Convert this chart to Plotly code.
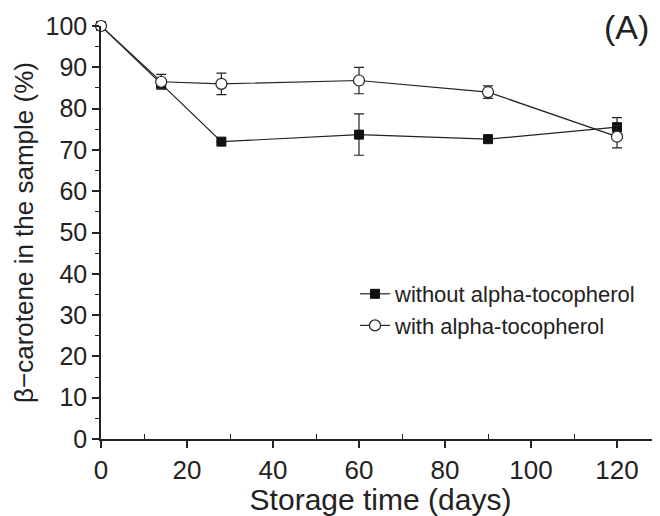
import plotly.graph_objects as go

days = [0, 14, 28, 60, 90, 120]
without_toc = [100, 86.0, 72.0, 73.7, 72.6, 75.5]
without_err = [0, 1.0, 0, 5.0, 0, 2.3]
with_toc = [100, 86.5, 86.0, 86.8, 84.0, 73.2]
with_err = [0, 1.8, 2.6, 3.2, 1.5, 2.7]

FONT = "Liberation Sans, Arial, sans-serif"
fig = go.Figure()
fig.add_trace(go.Scatter(
    x=days, y=without_toc, name="without alpha-tocopherol", mode="lines+markers",
    line=dict(color="#222", width=1.2),
    marker=dict(symbol="square", size=9, color="#111", line=dict(color="#111", width=1)),
    error_y=dict(type="data", array=without_err, visible=True, color="#222", thickness=1.2, width=5),
    cliponaxis=False,
))
fig.add_trace(go.Scatter(
    x=days, y=with_toc, name="with alpha-tocopherol", mode="lines+markers",
    line=dict(color="#222", width=1.2),
    marker=dict(symbol="circle", size=11, color="white", line=dict(color="#222", width=1.2)),
    error_y=dict(type="data", array=with_err, visible=True, color="#222", thickness=1.2, width=5),
    cliponaxis=False,
))
# page has an 8px body margin: plot area spans x 101..660, y 26..439 on the page
fig.update_layout(
    width=652, height=508,
    margin=dict(l=93, r=0, t=18, b=77, autoexpand=False),
    plot_bgcolor="white", paper_bgcolor="white",
    font=dict(family=FONT, color="#222"),
    showlegend=True,
    legend=dict(x=(355 - 101) / 559, y=(439 - 273) / 413, xanchor="left", yanchor="top",
                bgcolor="rgba(0,0,0,0)", font=dict(size=22, color="#222"), tracegroupgap=0),
    annotations=[dict(text="(A)", x=1.0, y=1.0, xref="paper", yref="paper", xanchor="right",
                      yanchor="middle", xshift=-9, yshift=-1, showarrow=False,
                      font=dict(size=34, family=FONT, color="#222"))],
)
fig.update_xaxes(
    range=[0, 130], tickvals=[0, 20, 40, 60, 80, 100, 120], showgrid=False, zeroline=False,
    showline=True, linecolor="#222", linewidth=1.5, ticks="outside", ticklen=7, tickwidth=1.5,
    tickcolor="#222", tickfont=dict(size=26), automargin=False,
    minor=dict(tickvals=[10, 30, 50, 70, 90, 110], ticks="inside", ticklen=5, tickwidth=1.2, tickcolor="#222"),
    title=dict(text="Storage time (days)", font=dict(size=30), standoff=4),
)
fig.update_yaxes(
    range=[0, 100], dtick=10, showgrid=False, zeroline=False,
    showline=True, linecolor="#222", linewidth=1.5, ticks="outside", ticklen=7, tickwidth=1.5,
    tickcolor="#222", tickfont=dict(size=25), automargin=False,
    minor=dict(dtick=5, ticks="outside", ticklen=4, tickwidth=1.2, tickcolor="#222"),
    title=dict(text="β−carotene in the sample (%)", font=dict(size=26), standoff=4),
)
fig.write_html("out.html")
